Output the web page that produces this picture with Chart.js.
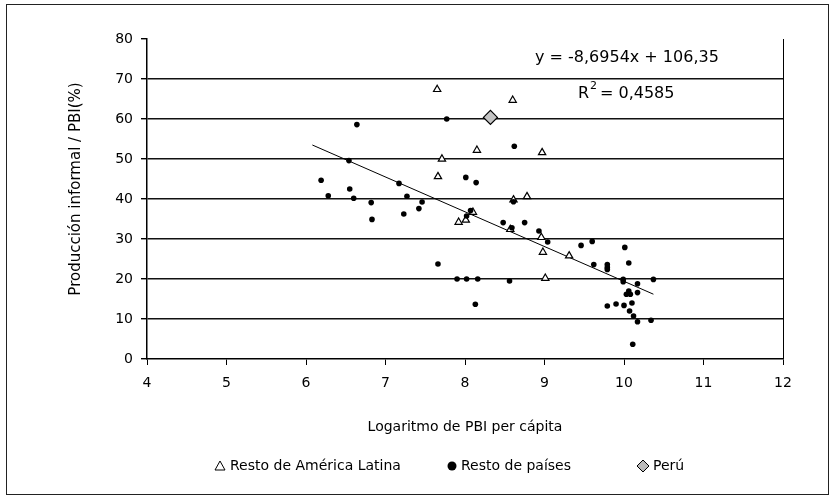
<!DOCTYPE html>
<html>
<head>
<meta charset="utf-8">
<script src="https://cdn.jsdelivr.net/npm/chart.js@4.4.0/dist/chart.umd.min.js"></script>
<style>
  body { margin: 0; background: #fff; }
  canvas { display: block; }
</style>
</head>
<body>
<canvas id="chart" width="835" height="500"></canvas>
<script>
// Resto de America Latina (triangles)
const latamX = [7.65, 8.60, 8.15, 8.97, 7.71, 7.66, 8.78, 8.61, 8.10, 8.01, 7.92, 8.57, 8.96, 8.98, 9.31, 9.01];
const latamY = [67.4, 64.7, 52.2, 51.6, 50.0, 45.6, 40.6, 39.8, 36.7, 34.75, 34.2, 32.4, 30.4, 26.7, 25.8, 20.2];

// Resto de paises (dots)
const restX = [6.19, 6.28, 6.54, 6.55, 6.60, 6.64, 6.82, 6.83, 7.17, 7.23, 7.27, 7.42, 7.46, 7.66, 7.77,
  7.90, 8.01, 8.02, 8.02, 8.07, 8.13, 8.14, 8.16, 8.48, 8.56, 8.59, 8.61, 8.62, 8.75, 8.93, 9.04,
  9.46, 9.60, 9.62, 9.79, 9.79, 9.79, 9.79, 9.90, 9.99, 9.99, 10.00, 10.01, 10.03, 10.06, 10.06,
  10.07, 10.08, 10.10, 10.11, 10.12, 10.17, 10.17, 10.17, 10.34, 10.37];
const restY = [44.7, 40.8, 49.6, 42.5, 40.2, 58.6, 39.1, 34.9, 43.9, 36.25, 40.7, 37.6, 39.25, 23.75, 60.0,
  20.0, 45.4, 35.75, 20.0, 37.1, 13.7, 44.1, 20.0, 34.1, 19.5, 32.8, 39.3, 53.2, 34.1, 32.0, 29.25,
  28.4, 29.4, 23.6, 23.6, 22.9, 22.4, 13.25, 13.75, 19.9, 19.3, 13.4, 27.9, 16.2, 24.0, 17.0,
  12.0, 16.2, 14.0, 3.7, 10.75, 18.8, 16.6, 9.3, 9.7, 19.9];

// Peru
const peruX = [8.32];
const peruY = [60.4];

// linear trend (end points)
const trendX = [6.08, 10.37];
const trendY = [53.5, 16.2];

const xTicks = [4, 5, 6, 7, 8, 9, 10, 11, 12];
const yTicks = [0, 10, 20, 30, 40, 50, 60, 70, 80];

const eqText = 'y = -8,6954x + 106,35';
const r2Text = '= 0,4585';
const legendLabels = ['Resto de América Latina', 'Resto de países', 'Perú'];
const xTitle = 'Logaritmo de PBI per cápita';
const yTitle = 'Producción informal / PBI(%)';

const FONT = 'DejaVu Sans';

function pts(xs, ys) {
  return xs.map((x, i) => ({ x: x, y: ys[i] }));
}

// extras: frame, equation, y title, legend
const extras = {
  id: 'extras',
  afterDraw(chart) {
    const ctx = chart.ctx;
    ctx.save();
    ctx.strokeStyle = '#222';
    ctx.lineWidth = 1;
    ctx.strokeRect(6.5, 4.5, 822, 490);

    ctx.fillStyle = '#000';
    ctx.font = '16px "' + FONT + '"';
    ctx.textBaseline = 'middle';
    ctx.textAlign = 'left';
    ctx.fillText(eqText, 535, 58);
    ctx.fillText('R', 578, 94);
    ctx.font = '11px "' + FONT + '"';
    ctx.fillText('2', 590, 86);
    ctx.font = '16px "' + FONT + '"';
    ctx.fillText(r2Text, 600, 94);

    // y title
    ctx.save();
    ctx.translate(76, 189);
    ctx.rotate(-Math.PI / 2);
    ctx.textAlign = 'center';
    ctx.font = '15px "' + FONT + '"';
    ctx.fillText(yTitle, 0, 0);
    ctx.restore();

    // legend
    const ly = 466;
    ctx.font = '14px "' + FONT + '"';
    ctx.lineWidth = 1;
    ctx.strokeStyle = '#000';
    ctx.beginPath();
    ctx.moveTo(220, ly - 5);
    ctx.lineTo(225, ly + 4);
    ctx.lineTo(215, ly + 4);
    ctx.closePath();
    ctx.stroke();
    ctx.fillText(legendLabels[0], 230, ly);

    ctx.beginPath();
    ctx.arc(452, ly, 4.5, 0, Math.PI * 2);
    ctx.fill();
    ctx.fillText(legendLabels[1], 461, ly);

    ctx.beginPath();
    ctx.moveTo(643, ly - 6);
    ctx.lineTo(649, ly);
    ctx.lineTo(643, ly + 6);
    ctx.lineTo(637, ly);
    ctx.closePath();
    ctx.fillStyle = '#bbb';
    ctx.fill();
    ctx.stroke();
    ctx.fillStyle = '#000';
    ctx.fillText(legendLabels[2], 653, ly);
    ctx.restore();
  }
};

new Chart(document.getElementById('chart'), {
  type: 'scatter',
  data: {
    datasets: [
      {
        label: legendLabels[2],
        data: pts(peruX, peruY),
        pointStyle: 'rectRot',
        pointRadius: 7,
        backgroundColor: '#c4c4c4',
        borderColor: '#000',
        borderWidth: 1.2,
        order: 0
      },
      {
        label: legendLabels[1],
        data: pts(restX, restY),
        pointStyle: 'circle',
        pointRadius: 2.8,
        backgroundColor: '#000',
        borderColor: '#000',
        borderWidth: 0,
        order: 1
      },
      {
        label: legendLabels[0],
        data: pts(latamX, latamY),
        pointStyle: 'triangle',
        pointRadius: 4.2,
        backgroundColor: '#fff',
        borderColor: '#000',
        borderWidth: 1.2,
        order: 2
      },
      {
        label: 'trend',
        data: pts(trendX, trendY),
        showLine: true,
        borderColor: '#000',
        borderWidth: 1,
        pointRadius: 0,
        order: 3
      }
    ]
  },
  options: {
    responsive: false,
    animation: false,
    layout: { padding: { top: 39, right: 52, left: 0, bottom: 0 } },
    plugins: {
      legend: { display: false },
      tooltip: { enabled: false }
    },
    scales: {
      x: {
        type: 'linear',
        min: 4,
        max: 12,
        afterBuildTicks: s => { s.ticks = xTicks.map(v => ({ value: v })); },
        afterFit: s => { s.height = 141; },
        ticks: { color: '#000', font: { family: FONT, size: 14 }, padding: 10 },
        grid: {
          drawOnChartArea: true,
          color: c => (c.tick && c.tick.value === 12 ? '#000' : 'rgba(0,0,0,0)'),
          tickColor: '#000',
          tickLength: 6,
          lineWidth: 1
        },
        border: { display: true, color: '#000', width: 1.5 },
        title: {
          display: true,
          text: xTitle,
          color: '#000',
          font: { family: FONT, size: 14 },
          padding: { top: 0, bottom: 64 }
        }
      },
      y: {
        type: 'linear',
        min: 0,
        max: 80,
        afterBuildTicks: s => { s.ticks = yTicks.map(v => ({ value: v })); },
        afterFit: s => { s.width = 147; },
        ticks: { color: '#000', font: { family: FONT, size: 14 }, padding: 8 },
        grid: {
          color: c => (c.tick && (c.tick.value === 80 || c.tick.value === 0) ? 'rgba(0,0,0,0)' : '#111'),
          tickColor: '#000',
          tickLength: 6,
          lineWidth: 1.4
        },
        border: { display: true, color: '#000', width: 1.5 }
      }
    }
  },
  plugins: [extras]
});
</script>
</body>
</html>
